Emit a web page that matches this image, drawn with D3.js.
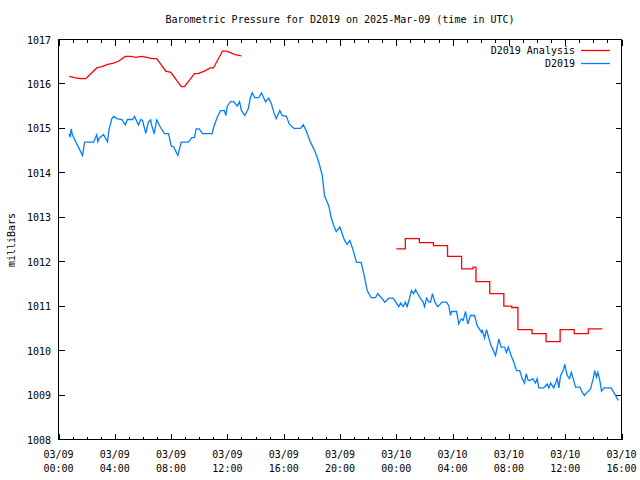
<!DOCTYPE html>
<html><head><meta charset="utf-8">
<script src="https://cdn.jsdelivr.net/npm/d3@7"></script>
<style>body{margin:0;background:#fff}svg{display:block}text{font-family:"DejaVu Sans Mono","Liberation Mono",monospace;font-size:10px;fill:#000}</style>
</head><body>
<script>
// hours since 2025-03-09 00:00 UTC
const blueHours = [0.76,0.83,0.90,0.99,1.71,1.85,2.49,2.72,2.79,2.89,3.20,3.48,3.60,3.79,3.91,4.14,4.50,4.74,4.90,5.26,5.40,5.68,5.85,5.97,6.20,6.39,6.54,6.63,6.80,6.98,7.23,7.53,7.82,8.01,8.17,8.48,8.72,9.24,9.47,9.66,9.78,10.00,10.23,10.92,11.03,11.28,11.51,11.79,11.89,11.99,12.22,12.45,12.70,12.86,13.00,13.24,13.48,13.64,13.76,13.95,14.23,14.42,14.71,14.94,15.13,15.30,15.47,15.72,15.89,16.20,16.39,16.72,17.19,17.39,17.62,17.90,18.14,18.38,18.56,18.74,18.90,19.04,19.20,19.37,19.56,19.73,19.99,20.16,20.32,20.51,20.70,20.94,21.17,21.51,21.69,21.93,22.22,22.52,22.68,23.00,23.18,23.47,23.78,24.01,24.18,24.30,24.49,24.65,24.77,24.96,25.08,25.24,25.36,25.53,25.72,25.91,26.00,26.15,26.31,26.43,26.57,26.74,26.95,27.26,27.57,27.73,27.85,27.92,28.28,28.44,28.61,28.75,28.92,29.08,29.27,29.56,29.75,29.93,30.06,30.10,30.27,30.41,30.69,31.05,31.28,31.45,31.69,31.83,31.95,32.16,32.35,32.54,32.77,32.94,33.11,33.23,33.37,33.53,33.70,33.89,34.01,34.12,34.48,34.72,34.84,34.96,35.19,35.43,35.55,35.67,35.86,35.97,36.14,36.31,36.43,36.57,36.73,37.04,37.21,37.37,37.56,37.80,37.99,38.10,38.22,38.32,38.46,38.58,38.74,39.27,39.45,39.64,39.77];
const blueValues = [1014.88,1014.80,1014.99,1014.85,1014.39,1014.69,1014.69,1014.86,1014.70,1014.78,1014.86,1014.70,1014.99,1015.22,1015.27,1015.22,1015.20,1015.08,1015.20,1015.20,1015.27,1015.08,1015.20,1015.18,1014.89,1015.14,1015.19,1015.06,1014.88,1015.19,1015.03,1014.88,1014.88,1014.60,1014.59,1014.39,1014.69,1014.69,1014.79,1014.79,1014.99,1014.99,1014.88,1014.88,1015.03,1015.25,1015.40,1015.40,1015.29,1015.50,1015.60,1015.60,1015.50,1015.60,1015.40,1015.29,1015.44,1015.70,1015.80,1015.69,1015.69,1015.80,1015.60,1015.68,1015.55,1015.36,1015.22,1015.40,1015.29,1015.27,1015.10,1015.00,1015.00,1015.08,1014.93,1014.69,1014.54,1014.35,1014.16,1013.94,1013.49,1013.38,1013.26,1013.00,1012.81,1012.68,1012.78,1012.63,1012.48,1012.39,1012.48,1012.25,1011.99,1011.98,1011.73,1011.35,1011.19,1011.19,1011.28,1011.17,1011.09,1011.18,1011.18,1011.07,1010.99,1011.07,1010.99,1011.09,1010.99,1011.20,1011.35,1011.28,1011.37,1011.28,1011.17,1011.09,1010.99,1011.18,1011.09,1011.09,1011.28,1011.09,1010.99,1011.09,1011.09,1011.01,1010.79,1010.88,1010.88,1010.60,1010.71,1010.68,1010.88,1010.60,1010.79,1010.79,1010.56,1010.47,1010.41,1010.47,1010.28,1010.47,1010.15,1009.89,1010.26,1010.08,1010.08,1009.96,1010.08,1009.89,1009.74,1009.55,1009.55,1009.37,1009.27,1009.48,1009.33,1009.33,1009.37,1009.27,1009.37,1009.16,1009.16,1009.25,1009.16,1009.27,1009.16,1009.37,1009.16,1009.44,1009.55,1009.69,1009.44,1009.37,1009.51,1009.37,1009.18,1009.18,1009.06,1008.99,1009.06,1009.14,1009.37,1009.55,1009.40,1009.51,1009.33,1009.09,1009.16,1009.16,1009.06,1008.95,1008.88];
const analysisHoursA = [0.76,1.14,1.54,1.94,2.72,3.08,3.50,3.91,4.26,4.74,5.17,5.49,5.92,6.27,6.63,6.98,7.62,7.98,8.72,8.95,9.66,9.90,10.37,10.78,11.01,11.65,11.96,12.55,12.98];
const analysisValuesA = [1016.17,1016.14,1016.12,1016.12,1016.36,1016.39,1016.44,1016.47,1016.51,1016.62,1016.62,1016.60,1016.62,1016.60,1016.57,1016.57,1016.29,1016.26,1015.94,1015.94,1016.23,1016.23,1016.29,1016.36,1016.36,1016.74,1016.74,1016.66,1016.63];
const analysisHoursB = [24.00,24.64,25.64,26.64,27.64,28.64,29.45,29.66,30.64,31.64,32.20,32.64,33.64,34.64,35.64,36.64,37.64,38.64];
const analysisValuesB = [1012.29,1012.52,1012.43,1012.36,1012.12,1011.84,1011.88,1011.55,1011.28,1011.00,1010.97,1010.47,1010.38,1010.20,1010.47,1010.38,1010.49,1010.49];
const yTicks = [1008,1009,1010,1011,1012,1013,1014,1015,1016,1017];
const title = "Barometric Pressure for D2019 on 2025-Mar-09 (time in UTC)";
const yLabel = "milliBars";
const legendNames = ["D2019 Analysis","D2019"];

const W=640,H=480, L=58.5, R=621.5, T=39.5, B=439.5;
const t0 = Date.UTC(2025,2,9);
const toDate = h => new Date(t0 + h*3600e3);
const x = d3.scaleUtc().domain([toDate(0),toDate(40)]).range([L,R]);
const y = d3.scaleLinear().domain([1008,1017]).range([B,T]);

const svg = d3.select("body").append("svg").attr("width",W).attr("height",H);

// ticks
const g = svg.append("g").attr("stroke","#000").attr("stroke-width",1).attr("shape-rendering","crispEdges");
const hourTicks = d3.range(0,41).map(toDate);
hourTicks.forEach((d,i)=>{
  const len = i%4===0 ? 6 : 3;
  const xx = Math.round(x(d))+0.5;
  g.append("line").attr("x1",xx).attr("x2",xx).attr("y1",B).attr("y2",B-len);
  g.append("line").attr("x1",xx).attr("x2",xx).attr("y1",T).attr("y2",T+len);
});
yTicks.forEach(v=>{
  const yy = Math.round(y(v)-0.5)+0.5;
  g.append("line").attr("x1",L).attr("x2",L+6).attr("y1",yy).attr("y2",yy);
  g.append("line").attr("x1",R).attr("x2",R-6).attr("y1",yy).attr("y2",yy);
});

// axes labels
const fmtD = d3.utcFormat("%m/%d"), fmtT = d3.utcFormat("%H:%M");
x.ticks(d3.utcHour.every(4)).forEach(d=>{
  svg.append("text").attr("x",x(d)).attr("y",458).attr("text-anchor","middle").text(fmtD(d));
  svg.append("text").attr("x",x(d)).attr("y",472).attr("text-anchor","middle").text(fmtT(d));
});
yTicks.forEach(v=>{
  svg.append("text").attr("x",51).attr("y",y(v)+4).attr("text-anchor","end").text(v);
});
svg.append("text").attr("x",(L+R)/2).attr("y",23).attr("text-anchor","middle").text(title);
svg.append("text").attr("transform","translate(15,240) rotate(-90)").attr("text-anchor","middle").text(yLabel);

// data lines
const line = d3.line().x(d=>x(toDate(d[0]))).y(d=>y(d[1]));
const stepLine = d3.line().curve(d3.curveStepAfter).x(d=>x(toDate(d[0]))).y(d=>y(d[1]));
const red="#ff0000", blue="#0080ff";
svg.append("path").datum(analysisHoursA.map((h,i)=>[h,analysisValuesA[i]]))
  .attr("d",line).attr("fill","none").attr("stroke",red).attr("stroke-width",1.3);
svg.append("path").datum(analysisHoursB.map((h,i)=>[h,analysisValuesB[i]]))
  .attr("d",stepLine).attr("fill","none").attr("stroke",red).attr("stroke-width",1.3);
svg.append("path").datum(blueHours.map((h,i)=>[h,blueValues[i]]))
  .attr("d",line).attr("fill","none").attr("stroke",blue).attr("stroke-width",1.3);

// legend
[[legendNames[0],red,50],[legendNames[1],blue,63]].forEach(([n,c,yy])=>{
  svg.append("text").attr("x",575).attr("y",yy+4).attr("text-anchor","end").text(n);
  svg.append("line").attr("x1",581).attr("x2",610).attr("y1",yy+0.5).attr("y2",yy+0.5)
    .attr("stroke",c).attr("stroke-width",1.3);
});

// frame
svg.append("rect").attr("x",L).attr("y",T).attr("width",R-L).attr("height",B-T)
  .attr("fill","none").attr("stroke","#000").attr("stroke-width",1).attr("shape-rendering","crispEdges");
</script>
</body></html>
